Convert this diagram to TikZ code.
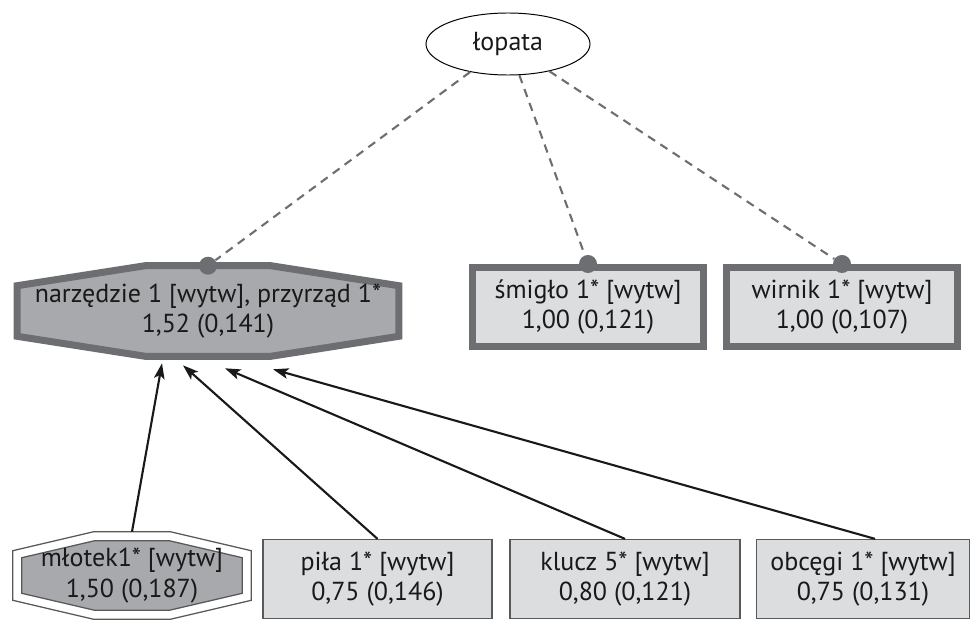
\documentclass[tikz,border=0pt]{standalone}
\usepackage{fontspec}
\setmainfont{PT Sans}
\usetikzlibrary{calc,backgrounds,arrows.meta,shapes.geometric}
\definecolor{darkgrey}{HTML}{6D6E71}
\definecolor{midgrey}{HTML}{A7A9AC}
\definecolor{lightgrey}{HTML}{DCDDDF}
\definecolor{edgegrey}{HTML}{58595B}
% octagon round a node: node, chamfer x, chamfer y, grow
\newcommand{\octapath}[4]{($(#1.north west)+(-#4,#3)$) -- ($(#1.north west)+(#2,-#4)$) -- ($(#1.north east)+(-#2,-#4)$) -- ($(#1.north east)+(#4,#3)$) -- ($(#1.south east)+(#4,-#3)$) -- ($(#1.south east)+(-#2,#4)$) -- ($(#1.south west)+(#2,#4)$) -- ($(#1.south west)+(-#4,-#3)$) -- cycle}
\begin{document}
\begin{tikzpicture}[x=0.025cm, y=-0.025cm,
  every node/.style={font=\fontsize{18.5}{21.5}\selectfont, text=black!90, align=center, inner sep=0pt},
  box/.style={rectangle, draw=edgegrey, fill=lightgrey, line width=0.9pt, minimum height=1.975cm},
  bigbox/.style={rectangle, draw=darkgrey, fill=lightgrey, line width=5pt, minimum width=5.775cm, minimum height=1.975cm},
  dot/.style={circle, fill=darkgrey, minimum size=0.45cm},
  dashline/.style={draw=darkgrey, line width=1.5pt, dash pattern=on 6pt off 4.5pt},
  arr/.style={-{Stealth[length=11pt, width=7.5pt, inset=2.5pt]}, line width=1.5pt, black!90}]
  \useasboundingbox (0,0) rectangle (978,624);
  % Nodes
  \node (lopata) [ellipse, draw, line width=0.7pt, minimum width=4.1cm, minimum height=1.55cm] at (508,44) {łopata};
  \node (narz) [rectangle, minimum width=9.525cm, minimum height=2.25cm] at (208,311) {narzędzie 1 [wytw], przyrząd 1*\\1,52 (0,141)};
  \node (smiglo) [bigbox] at (588,307) {śmigło 1* [wytw]\\1,00 (0,121)};
  \node (wirnik) [bigbox] at (842,307) {wirnik 1* [wytw]\\1,00 (0,107)};
  \node (mlotek) [rectangle, minimum width=5.5cm, minimum height=1.725cm] at (132,575.5) {młotek1* [wytw]\\1,50 (0,187)};
  \node (pila) [box, minimum width=5.725cm] at (377.5,579) {piła 1* [wytw]\\0,75 (0,146)};
  \node (klucz) [box, minimum width=5.75cm] at (625,579) {klucz 5* [wytw]\\0,80 (0,121)};
  \node (obcegi) [box, minimum width=5.325cm] at (863,579) {obcęgi 1* [wytw]\\0,75 (0,131)};
  % Octagons
  \begin{scope}[on background layer]
    \draw[draw=darkgrey, fill=midgrey, line width=5pt, line join=miter] \octapath{narz}{128}{20}{0};
    \draw[draw=edgegrey, fill=white, line width=0.9pt] \octapath{mlotek}{72}{10}{9};
    \draw[draw=edgegrey, fill=midgrey, line width=0.9pt] \octapath{mlotek}{73}{17}{0};
  \end{scope}
  % Dots
  \node (dot1) [dot] at (narz.north) {};
  \node (dot2) [dot] at (smiglo.north) {};
  \node (dot3) [dot] at (wirnik.north) {};
  % Tips
  \coordinate (t1) at ($(narz.south)+(-46,7)$);
  \coordinate (t2) at ($(narz.south)+(-25,9)$);
  \coordinate (t3) at ($(narz.south)+(17,12)$);
  \coordinate (t4) at ($(narz.south)+(65,13)$);
  % Dashed
  \draw[dashline] (lopata) -- (dot1);
  \draw[dashline] (lopata) -- (dot2);
  \draw[dashline] (lopata) -- (dot3);
  % Arrow
  \draw[arr] ($(mlotek.north)+(0,-9)$) -- (t1);
  \draw[arr] (pila.north) -- (t2);
  \draw[arr] (klucz.north) -- (t3);
  \draw[arr] ($(obcegi.north)+(12,0)$) -- (t4);
\end{tikzpicture}
\end{document}
